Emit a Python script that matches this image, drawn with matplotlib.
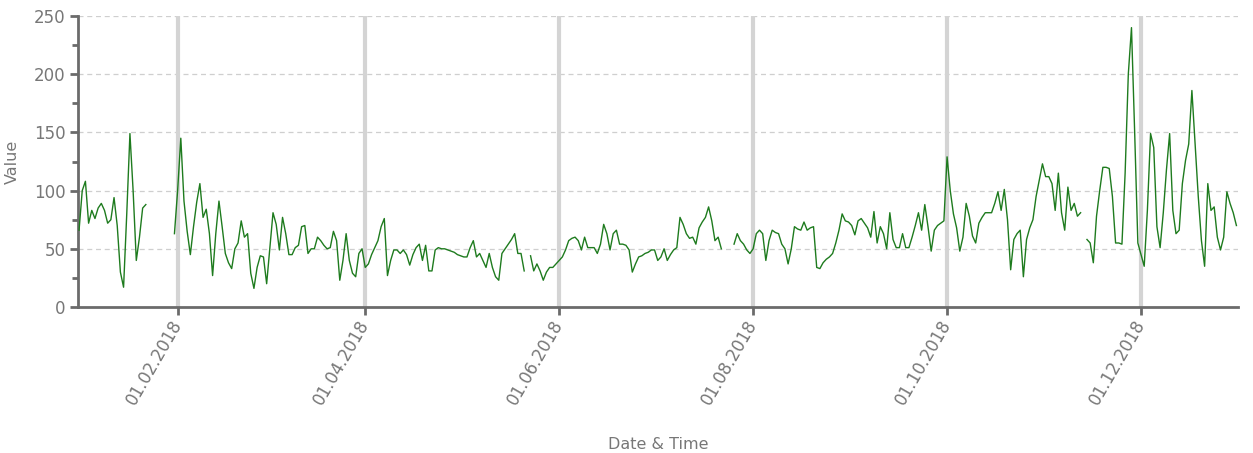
import numpy as np
import pandas as pd
import matplotlib
matplotlib.use("Agg")
import matplotlib.pyplot as plt
import matplotlib.dates as mdates
from matplotlib.ticker import MultipleLocator

# ---- data (daily values, gaps where the logger had no data) ----
seg1_start = "2018-01-01"
seg1_values = [66, 100, 108, 72, 83, 76, 85, 89, 83, 72, 75, 94, 70, 30, 17, 80,
               149, 100, 40, 60, 85, 88]

seg2_start = "2018-01-31"
seg2_values = [63, 100, 145, 91, 65, 45, 69, 90, 106, 77, 84, 63, 27, 63, 91, 69,
               46, 38, 33, 50, 55, 74, 60, 63, 29, 16, 34, 44, 43, 20, 51, 81,
               71, 49, 77, 63, 45, 45, 51, 53, 69, 70, 46, 50, 50, 60, 57, 53,
               50, 51, 65, 57, 23, 40, 63, 40, 29, 26, 46, 50, 34, 37, 45, 51,
               57, 69, 76, 27, 40, 49, 49, 46, 49, 45, 36, 45, 51, 54, 40, 53,
               31, 31, 49, 51, 50, 50, 49, 48, 47, 45, 44, 43, 43, 51, 57, 43,
               46, 40, 34, 46, 34, 26, 23, 46, 50, 54, 58, 63, 46, 46, 31]

seg3_start = "2018-05-23"
seg3_values = [44, 31, 37, 31, 23, 30, 34, 34, 37, 40, 43, 49, 57, 59, 60, 57,
               49, 60, 51, 51, 51, 46, 54, 71, 63, 49, 63, 66, 54, 54, 53, 49,
               30, 37, 43, 44, 46, 47, 49, 49, 40, 43, 50, 40, 45, 49, 51, 77,
               71, 63, 59, 60, 54, 68, 73, 77, 86, 74, 57, 60, 50]

seg4_start = "2018-07-26"
seg4_values = [54, 63, 57, 54, 49, 46, 50, 63, 66, 63,
               40, 57, 66, 64, 63, 54, 50, 37, 50, 69,
               67, 66, 73, 66, 68, 69, 34, 33, 38, 41,
               43, 46, 55, 66, 80, 74, 73, 70, 62, 74,
               76, 72, 68, 60, 82, 55, 69, 63, 50, 81,
               58, 51, 51, 63, 51, 51, 60, 70, 81, 66,
               88, 69, 48, 66, 70, 72, 74, 129, 100, 80,
               68, 48, 60, 89, 78, 61, 55, 72, 77, 81,
               81, 81, 89, 99, 83, 101, 75, 32, 58, 63,
               66, 26, 58, 68, 75, 95, 109, 123, 112, 112,
               106, 83, 115, 81, 66, 103, 83, 89, 78, 81]

seg5_start = "2018-11-14"
seg5_values = [58, 55, 38, 78, 100, 120, 120, 119, 95, 55, 55, 54, 115, 200, 240,
               150, 55, 45, 35, 83, 149, 137, 69, 51, 81, 118, 149, 83, 63, 66,
               106, 126, 140, 186, 140, 95, 57, 35, 106, 83, 86, 60, 49, 60, 99,
               89, 81, 70]

segments = [(seg1_start, seg1_values), (seg2_start, seg2_values),
            (seg3_start, seg3_values), (seg4_start, seg4_values),
            (seg5_start, seg5_values)]

full_index = pd.date_range("2018-01-01", "2018-12-31", freq="D")
series = pd.Series(np.nan, index=full_index)
for start, vals in segments:
    idx = pd.date_range(start, periods=len(vals), freq="D")
    series.loc[idx] = vals

# ---- figure ----
W, H = 1253, 453
fig = plt.figure(figsize=(W / 100, H / 100), dpi=100)
ax = fig.add_axes([78 / W, 1 - 307 / H, (1238 - 78) / W, (307 - 16) / H])

spine_col = "#6b6b6b"
text_col = "#777777"

ax.plot(series.index, series.values, color="#1e7b1e", lw=1.0, zorder=3)

ax.set_ylim(0, 250)
ax.set_xlim(pd.Timestamp("2018-01-01") - pd.Timedelta(hours=8),
            pd.Timestamp("2018-12-31") + pd.Timedelta(hours=12))

ax.yaxis.set_major_locator(MultipleLocator(50))
ax.yaxis.set_minor_locator(MultipleLocator(25))
ax.xaxis.set_major_locator(mdates.MonthLocator(bymonth=[2, 4, 6, 8, 10, 12]))
ax.xaxis.set_major_formatter(mdates.DateFormatter("%d.%m.%Y"))

# grids
for yv in range(50, 251, 50):
    ax.axhline(yv, color="#cfcfcf", lw=0.9, ls=(0, (4, 3)), zorder=1)
ax.grid(axis="x", which="major", color="#d4d4d4", lw=3.0, zorder=1)

for s in ["top", "right"]:
    ax.spines[s].set_visible(False)
for s in ["left", "bottom"]:
    ax.spines[s].set_color(spine_col)
    ax.spines[s].set_linewidth(2.0)

ax.tick_params(axis="y", which="major", length=6, width=2, color=spine_col,
               labelcolor=text_col, labelsize=12, pad=3)
ax.tick_params(axis="y", which="minor", length=4, width=2, color=spine_col)
ax.tick_params(axis="x", which="major", length=6, width=2, color=spine_col,
               labelcolor=text_col, labelsize=12, pad=4)

for lbl in ax.get_xticklabels():
    lbl.set_rotation(60)
    lbl.set_ha("right")
    lbl.set_va("center")
    lbl.set_rotation_mode("anchor")

ax.set_ylabel("Value", color=text_col, fontsize=11.5)
ax.yaxis.set_label_coords(-58 / (1238 - 78), 0.5)
ax.set_xlabel("Date & Time", color=text_col, fontsize=11.5)
ax.xaxis.set_label_coords(0.5, -(437 - 307) / (307 - 16))

fig.savefig("out.png", dpi=100, facecolor="white")
